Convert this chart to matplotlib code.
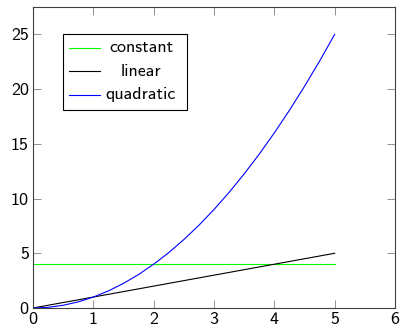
import matplotlib
matplotlib.use("Agg")
import matplotlib.pyplot as plt
from matplotlib.lines import Line2D
from matplotlib.patches import Rectangle

plt.rcParams['font.family'] = ['cmss10', 'DejaVu Sans']
plt.rcParams['axes.unicode_minus'] = False

x_vals = [0, 0.25, 0.5, 0.75, 1, 1.25, 1.5, 1.75, 2, 2.25, 2.5, 2.75, 3,
          3.25, 3.5, 3.75, 4, 4.25, 4.5, 4.75, 5]
constant = [4] * 21
linear = [0, 0.25, 0.5, 0.75, 1, 1.25, 1.5, 1.75, 2, 2.25, 2.5, 2.75, 3,
          3.25, 3.5, 3.75, 4, 4.25, 4.5, 4.75, 5]
quadratic = [0, 0.06, 0.25, 0.56, 1, 1.56, 2.25, 3.06, 4, 5.06, 6.25, 7.56, 9,
             10.56, 12.25, 14.06, 16, 18.06, 20.25, 22.56, 25]
series_names = ["constant", "linear", "quadratic"]
series_colors = ["#00ff00", "#000000", "#0000ff"]
xticks = [0, 1, 2, 3, 4, 5, 6]
yticks = [0, 5, 10, 15, 20, 25]

fig = plt.figure(figsize=(4.0, 3.29), dpi=100)
ax = fig.add_axes([33/400, 21/329, 362/400, 301/329])

for vals, c in zip([constant, linear, quadratic], series_colors):
    ax.plot(x_vals, vals, color=c, lw=0.8, solid_joinstyle='round')

ax.set_xlim(0, 6)
ax.set_ylim(0, 27.5)
ax.set_xticks(xticks)
ax.set_yticks(yticks)
ax.tick_params(direction='in', top=True, right=True, length=5.5, width=0.6,
               color='#808080', labelsize=13, pad=3)
for s in ax.spines.values():
    s.set_color('#404040')
    s.set_linewidth(0.8)

# legend (pgfplots style, centered text)
lx0, lx1, ly0, ly1 = 0.083, 0.425, 0.658, 0.910
ax.add_patch(Rectangle((lx0, ly0), lx1 - lx0, ly1 - ly0, transform=ax.transAxes,
                       facecolor='white', edgecolor='black', lw=0.8, zorder=5))
rows = [(308-48)/301, (308-71)/301, (308-95)/301]
for name, c, yy in zip(series_names, series_colors, rows):
    ax.add_line(Line2D([(69-33)/362, (100-33)/362], [yy, yy], transform=ax.transAxes,
                       color=c, lw=0.8, zorder=6))
    ax.text((141-33)/362, yy, name, transform=ax.transAxes, ha='center', va='center',
            fontsize=13, zorder=6)

fig.savefig("out.png", dpi=100)
